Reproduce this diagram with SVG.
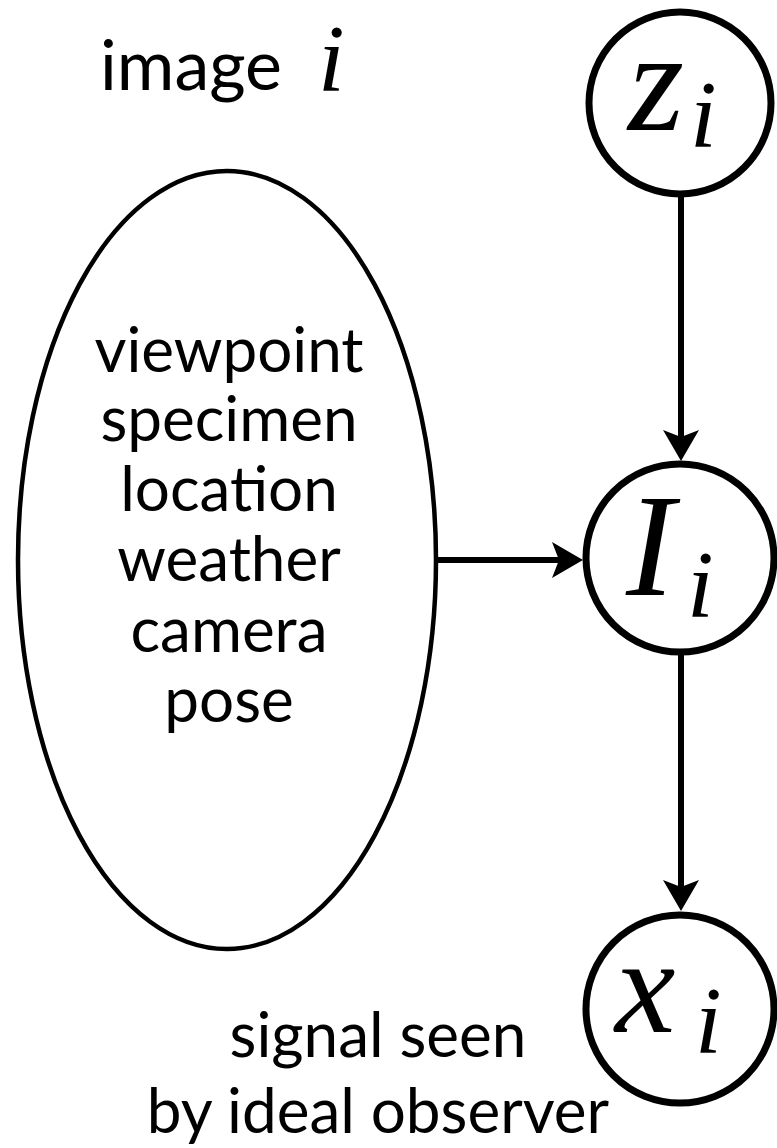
<svg xmlns="http://www.w3.org/2000/svg" width="777" height="1148" viewBox="0 0 777 1148">
<style>
.node{fill:#fff;stroke:#000;stroke-width:7}
.ell{fill:#fff;stroke:#000;stroke-width:4.5}
.edge{stroke:#000;stroke-width:6;fill:none}
.lbl{font-family:Lato,"Open Sans",sans-serif;font-size:62px;fill:#000;text-anchor:middle}
.math{font-family:"Liberation Serif","Times New Roman",serif;font-style:italic;fill:#000}
</style>
<defs>
<marker id="ah" markerUnits="userSpaceOnUse" viewBox="-8 -19 33 38" markerWidth="33" markerHeight="38" refX="0" refY="0" orient="auto">
<path d="M24,0 L-7,-18 L0,0 L-7,18 Z" fill="#000"/>
</marker>
</defs>
<g id="title">
<text x="100" y="90" style="font-family:Lato,'Open Sans',sans-serif;font-size:70px">image</text>
<text class="math" x="318" y="91" font-size="96">i</text>
</g>
<g id="connectors">
<line class="edge" x1="681" y1="196" x2="681" y2="437" marker-end="url(#ah)"/>
<line class="edge" x1="436" y1="560" x2="559" y2="560" marker-end="url(#ah)"/>
<line class="edge" x1="681" y1="654" x2="681" y2="887" marker-end="url(#ah)"/>
</g>
<g id="node-z">
<circle class="node" cx="680" cy="103" r="91"/>
<text class="math" x="628" y="130" font-size="144">z</text>
<text class="math" x="690" y="147" font-size="96">i</text>
</g>
<g id="node-I">
<circle class="node" cx="680" cy="558" r="94"/>
<text class="math" x="626" y="595" font-size="146">I</text>
<text class="math" x="687" y="617" font-size="96">i</text>
</g>
<g id="node-x">
<circle class="node" cx="680" cy="1009" r="94"/>
<text class="math" x="615" y="1032" font-size="136">x</text>
<text class="math" x="695" y="1053" font-size="96">i</text>
</g>
<g id="node-factors">
<ellipse class="ell" cx="227" cy="560" rx="209" ry="389"/>
<text class="lbl" x="229" y="372">viewpoint</text>
<text class="lbl" x="229" y="441">specimen</text>
<text class="lbl" x="229" y="511">location</text>
<text class="lbl" x="229" y="581">weather</text>
<text class="lbl" x="229" y="652">camera</text>
<text class="lbl" x="229" y="722">pose</text>
</g>
<g id="caption">
<text class="lbl" x="378" y="1057">signal seen</text>
<text class="lbl" x="378" y="1133">by ideal observer</text>
</g>
</svg>
